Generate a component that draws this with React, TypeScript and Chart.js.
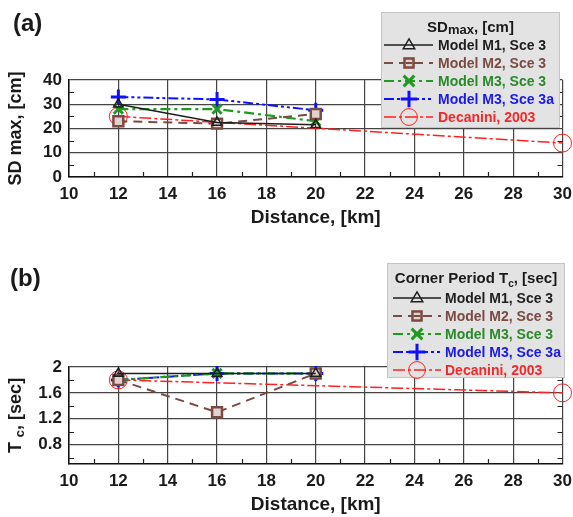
import React, { useEffect, useRef } from 'react';
import { Chart, registerables } from 'chart.js';

Chart.register(...registerables);

// ---------- data ----------
const distances = [12, 16, 20];
const decaniniDistances = [12, 30];

const sdM1 = [30, 22.5, 21.5];
const sdM2 = [23, 22, 26];
const sdM3 = [28, 28, 23];
const sdM3a = [33, 32, 27.5];
const sdDecanini = [25, 14];

const tcM1 = [1.9, 1.9, 1.9];
const tcM2 = [1.8, 1.3, 1.9];
const tcM3 = [1.8, 1.9, 1.9];
const tcM3a = [1.8, 1.9, 1.9];
const tcDecanini = [1.8, 1.6];

const seriesLabels = ['Model M1, Sce 3', 'Model M2, Sce 3', 'Model M3, Sce 3', 'Model M3, Sce 3a', 'Decanini, 2003'];

const xMinorTicks = [11, 13, 15, 17, 19, 21, 23, 25, 27, 29];
const sdMinorTicks = [5, 15, 25, 35];
const tcTicks = [0.8, 1.2, 1.6, 2];
const tcMinorTicks = [0.6, 1.0, 1.4, 1.8];

// ---------- styles ----------
const FONT = '"Liberation Sans", Arial, Helvetica, sans-serif';

type Style = {
  color: string; text: string; dash: number[]; width: number;
  point: string; r: number; fill: string; pw: number;
};

const styles: Style[] = [
  { color: '#1e1e1e', text: '#1e1e1e', dash: [], width: 1.5, point: 'triangle', r: 5.5, fill: 'rgba(0,0,0,0)', pw: 1.5 },
  { color: '#7a4a44', text: '#7a4a44', dash: [9, 6], width: 2, point: 'rect', r: 7, fill: '#e2d2cd', pw: 2.5 },
  { color: '#1f9a1f', text: '#2a8a2a', dash: [10, 4, 3, 4], width: 2.2, point: 'crossRot', r: 6.5, fill: 'rgba(0,0,0,0)', pw: 3 },
  { color: '#1010ff', text: '#1a1ae6', dash: [10, 3, 3, 3, 3, 3], width: 2, point: 'cross', r: 7.5, fill: 'rgba(0,0,0,0)', pw: 3 },
  { color: '#ff2020', text: '#f02a2a', dash: [12, 3, 3, 3], width: 1.5, point: 'circle', r: 9, fill: 'rgba(0,0,0,0)', pw: 1 },
];

function drawMarker(ctx: CanvasRenderingContext2D, s: Style, x: number, y: number, scale = 1) {
  ctx.save();
  ctx.setLineDash([]);
  ctx.strokeStyle = s.color;
  ctx.lineWidth = s.pw;
  const r = s.r * scale;
  ctx.beginPath();
  if (s.point === 'triangle') {
    ctx.moveTo(x, y - r);
    ctx.lineTo(x + r * 0.95, y + r * 0.6);
    ctx.lineTo(x - r * 0.95, y + r * 0.6);
    ctx.closePath();
    ctx.stroke();
  } else if (s.point === 'rect') {
    const h = r * 0.75;
    ctx.fillStyle = s.color;
    ctx.fillRect(x - h, y - h, 2 * h, 2 * h);
    ctx.fillStyle = s.fill;
    ctx.fillRect(x - h + 2.5, y - h + 2.5, 2 * h - 5, 2 * h - 5);
    ctx.fillStyle = s.color;
    ctx.fillRect(x - h + 2.5, y - 1, 2 * h - 5, 2);
  } else if (s.point === 'crossRot') {
    const h = r * 0.75;
    ctx.moveTo(x - h, y - h); ctx.lineTo(x + h, y + h);
    ctx.moveTo(x + h, y - h); ctx.lineTo(x - h, y + h);
    ctx.stroke();
  } else if (s.point === 'cross') {
    ctx.moveTo(x - r, y); ctx.lineTo(x + r, y);
    ctx.moveTo(x, y - r); ctx.lineTo(x, y + r);
    ctx.stroke();
  } else {
    ctx.arc(x, y, r * 0.85, 0, Math.PI * 2);
    ctx.stroke();
  }
  ctx.restore();
}

type Seg = { t: string; size: number; dy: number };

function drawSegments(ctx: CanvasRenderingContext2D, segs: Seg[], cx: number, cy: number) {
  let total = 0;
  for (const s of segs) {
    ctx.font = `bold ${s.size}px ${FONT}`;
    total += ctx.measureText(s.t).width;
  }
  let x = cx - total / 2;
  ctx.textAlign = 'left';
  ctx.textBaseline = 'alphabetic';
  for (const s of segs) {
    ctx.font = `bold ${s.size}px ${FONT}`;
    ctx.fillText(s.t, x, cy + s.dy);
    x += ctx.measureText(s.t).width;
  }
}

type PanelCfg = {
  height: number;
  top: number;
  xAxisH: number;
  panel: string;
  panelX: number;
  panelY: number;
  xTitleY: number;
  yTitle: Seg[];
  yMinor: number[];
  legend: { x: number; y: number; w: number; h: number; titleY: number; row0: number; step: number; l0: number; l1: number; mx: number; tx: number; title: Seg[] };
};

function makeDecor(cfg: PanelCfg) {
  return {
    id: 'decor',
    afterDraw(chart: any) {
      const ctx: CanvasRenderingContext2D = chart.ctx;
      const ca = chart.chartArea;
      const xs = chart.scales.x;
      const ys = chart.scales.y;
      ctx.save();
      // minor ticks
      ctx.strokeStyle = '#222';
      ctx.lineWidth = 1.2;
      ctx.beginPath();
      for (const v of cfg.yMinor) {
        const py = Math.round(ys.getPixelForValue(v)) + 0.5;
        ctx.moveTo(ca.left, py); ctx.lineTo(ca.left + 5, py);
        ctx.moveTo(ca.right - 5, py); ctx.lineTo(ca.right, py);
      }
      for (const v of xMinorTicks) {
        const px = Math.round(xs.getPixelForValue(v)) + 0.5;
        ctx.moveTo(px, ca.bottom - 5); ctx.lineTo(px, ca.bottom);
      }
      ctx.stroke();

      ctx.fillStyle = '#1a1a1a';
      // panel label
      ctx.font = `bold 24px ${FONT}`;
      ctx.textAlign = 'left';
      ctx.textBaseline = 'middle';
      ctx.fillText(cfg.panel, cfg.panelX, cfg.panelY);

      // x title
      ctx.font = `bold 19px ${FONT}`;
      ctx.textAlign = 'center';
      ctx.textBaseline = 'middle';
      ctx.fillText('Distance, [km]', (ca.left + ca.right) / 2, cfg.xTitleY);

      // y title
      ctx.save();
      ctx.translate(15, (ca.top + ca.bottom) / 2);
      ctx.rotate(-Math.PI / 2);
      drawSegments(ctx, cfg.yTitle, 0, 6);
      ctx.restore();

      // legend
      const L = cfg.legend;
      ctx.fillStyle = '#e3e3e3';
      ctx.fillRect(L.x, L.y, L.w, L.h);
      ctx.strokeStyle = '#c4c4c4';
      ctx.lineWidth = 1;
      ctx.strokeRect(L.x + 0.5, L.y + 0.5, L.w - 1, L.h - 1);
      ctx.fillStyle = '#1a1a1a';
      drawSegments(ctx, L.title, L.x + L.w / 2, L.titleY + 5);
      seriesLabels.forEach((label, i) => {
        const s = styles[i];
        const y = L.row0 + i * L.step;
        ctx.save();
        ctx.strokeStyle = s.color;
        ctx.lineWidth = s.width;
        ctx.setLineDash(s.dash);
        ctx.beginPath();
        ctx.moveTo(L.l0, y);
        ctx.lineTo(L.l1, y);
        ctx.stroke();
        ctx.restore();
        drawMarker(ctx, s, L.mx, y, 1.1);
        ctx.fillStyle = s.text;
        ctx.font = `bold 14px ${FONT}`;
        ctx.textAlign = 'left';
        ctx.textBaseline = 'middle';
        ctx.fillText(label, L.tx, y + 1);
      });
      ctx.restore();
    },
  };
}

function makeDatasets(series: number[][], deca: number[]) {
  const all = [...series.map((vals) => distances.map((d, i) => ({ x: d, y: vals[i] }))),
    decaniniDistances.map((d, i) => ({ x: d, y: deca[i] }))];
  return all.map((data, i) => {
    const s = styles[i];
    return {
      label: seriesLabels[i],
      data,
      borderColor: s.color,
      borderWidth: s.width,
      borderDash: s.dash,
      pointStyle: s.point,
      pointRadius: s.r,
      pointBorderWidth: s.pw,
      pointBorderColor: s.color,
      pointBackgroundColor: s.fill,
      tension: 0,
      clip: false,
      fill: false,
    };
  });
}

function baseOptions(cfg: PanelCfg, y: any) {
  return {
    responsive: false,
    animation: false,
    events: [],
    layout: { padding: { left: 0, top: cfg.top, right: 10, bottom: 0 } },
    plugins: { legend: { display: false }, tooltip: { enabled: false }, title: { display: false } },
    scales: {
      x: {
        type: 'linear',
        min: 10,
        max: 30,
        ticks: {
          stepSize: 2,
          autoSkip: false,
          maxRotation: 0,
          padding: 7,
          color: '#1a1a1a',
          font: { family: FONT, size: 17, weight: 'bold' },
        },
        grid: { color: '#444', lineWidth: 1.2, drawTicks: false },
        border: { display: true, color: '#111', width: 1.5 },
        afterFit(scale: any) {
          scale.height = cfg.xAxisH;
          scale.paddingLeft = 0;
          scale.paddingRight = 0;
        },
      },
      y: {
        ...y,
        ticks: {
          ...(y.ticks || {}),
          autoSkip: false,
          padding: 7,
          color: '#1a1a1a',
          font: { family: FONT, size: 17, weight: 'bold' },
          callback: (v: number) => String(v),
        },
        grid: { color: '#444', lineWidth: 1.2, drawTicks: false },
        border: { display: true, color: '#111', width: 1.5 },
        afterFit(scale: any) {
          scale.width = 69;
          scale.paddingTop = 0;
          scale.paddingBottom = 0;
        },
      },
    },
  };
}

const cfgA: PanelCfg = {
  height: 258,
  top: 80,
  xAxisH: 81,
  panel: '(a)',
  panelX: 13,
  panelY: 24,
  xTitleY: 218,
  yTitle: [{ t: 'SD max, [cm]', size: 18, dy: 0 }],
  yMinor: sdMinorTicks,
  legend: {
    x: 381, y: 12, w: 179, h: 116, titleY: 27, row0: 45, step: 18, l0: 384, l1: 433, mx: 409, tx: 438,
    title: [{ t: 'SD', size: 15, dy: 0 }, { t: 'max', size: 13, dy: 2 }, { t: ', [cm]', size: 15, dy: 0 }],
  },
};

const cfgB: PanelCfg = {
  height: 259,
  top: 109,
  xAxisH: 53,
  panel: '(b)',
  panelX: 10,
  panelY: 21,
  xTitleY: 247,
  yTitle: [{ t: 'T ', size: 18, dy: 0 }, { t: 'c', size: 13, dy: 3 }, { t: ', [sec]', size: 18, dy: 0 }],
  yMinor: tcMinorTicks,
  legend: {
    x: 387, y: 5, w: 178, h: 115, titleY: 20, row0: 40, step: 18, l0: 393, l1: 441, mx: 417, tx: 445,
    title: [{ t: 'Corner Period T', size: 15, dy: 0 }, { t: 'c', size: 10, dy: 4 }, { t: ', [sec]', size: 15, dy: 0 }],
  },
};

function Panel({ cfg, datasets, y }: { cfg: PanelCfg; datasets: any[]; y: any }) {
  const ref = useRef<HTMLCanvasElement | null>(null);
  useEffect(() => {
    if (!ref.current) return;
    const chart = new Chart(ref.current, {
      type: 'line',
      data: { datasets },
      options: baseOptions(cfg, y) as any,
      plugins: [makeDecor(cfg) as any],
    });
    return () => chart.destroy();
  }, []);
  return <canvas ref={ref} width={573} height={cfg.height} style={{ display: 'block', width: 573, height: cfg.height }} />;
}

export default function App() {
  useEffect(() => {
    document.body.style.margin = '0';
    document.body.style.background = '#ffffff';
  }, []);
  const dsA = makeDatasets([sdM1, sdM2, sdM3, sdM3a], sdDecanini);
  const dsB = makeDatasets([tcM1, tcM2, tcM3, tcM3a], tcDecanini);
  const yA = { type: 'linear', min: 0, max: 40, ticks: { stepSize: 10 } };
  const yB = {
    type: 'linear',
    min: 0.5,
    max: 2,
    afterBuildTicks(scale: any) {
      scale.ticks = tcTicks.map((v) => ({ value: v }));
    },
  };
  return (
    <div style={{ width: 573, height: 517, background: '#fff' }}>
      <Panel cfg={cfgA} datasets={dsA} y={yA} />
      <Panel cfg={cfgB} datasets={dsB} y={yB} />
    </div>
  );
}
